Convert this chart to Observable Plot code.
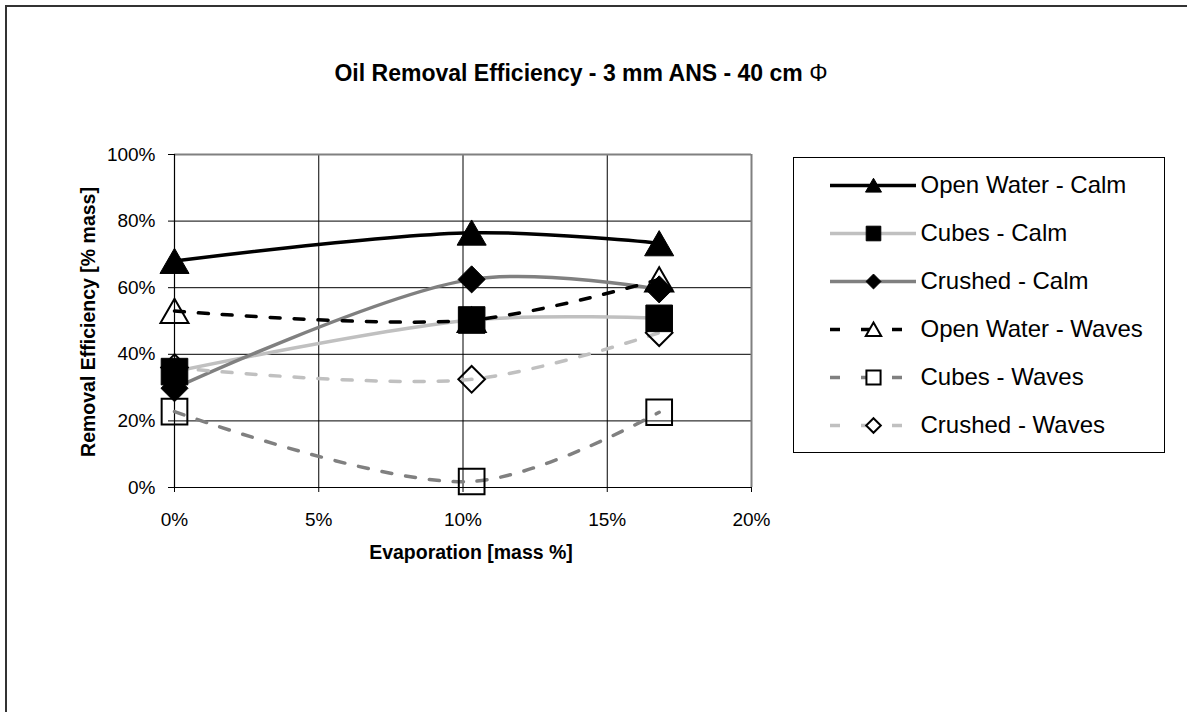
<!DOCTYPE html>
<html>
<head>
<meta charset="utf-8">
<script src="https://cdn.jsdelivr.net/npm/d3@7"></script>
<script src="https://cdn.jsdelivr.net/npm/@observablehq/plot@0.6"></script>
<style>
  html, body { margin: 0; background: #fff; font-family: "Liberation Sans", Arial, sans-serif; overflow: hidden; }
  #wrap { position: relative; width: 1187px; height: 712px; overflow: hidden; background: #fff; }
  #frame { position: absolute; left: 5px; top: 5px; width: 1250px; height: 760px; border: 2px solid #333; }
  #title { position: absolute; top: 60px; left: 0; width: 1162px; text-align: center; font-weight: bold; font-size: 23px; color: #000; white-space: nowrap; }
  #title .phi { font-weight: normal; }
  #chart { position: absolute; left: 0; top: 0; }
  #legend { position: absolute; left: 793px; top: 157px; border: 1px solid #000; background: #fff; line-height: 0; }
</style>
</head>
<body>
<div id="wrap">
  <div id="frame"></div>
  <div id="title">Oil Removal Efficiency - 3 mm ANS - 40 cm <span class="phi">Φ</span></div>
  <div id="chart"></div>
  <div id="legend"></div>
</div>
<script>
// ---- data ----
const evaporation = [0, 10.3, 16.8];
const seriesNames = ["Open Water - Calm", "Cubes - Calm", "Crushed - Calm", "Open Water - Waves", "Cubes - Waves", "Crushed - Waves"];
const openWaterCalm = [68, 76.5, 73.3];
const cubesCalm = [34.8, 50.3, 50.8];
const crushedCalm = [29.8, 62.5, 59.5];
const openWaterWaves = [53, 50.3, 62.5];
const cubesWaves = [22.8, 1.8, 22.6];
const crushedWaves = [36, 32.5, 46.5];
const xTicks = [0, 5, 10, 15, 20];
const yTicks = [0, 20, 40, 60, 80, 100];
const xTitle = "Evaporation [mass %]";
const yTitle = "Removal Efficiency [% mass]";

// ---- styles (kept separate from data) ----
const LIGHT = "#c0c0c0", MID = "#808080", BLACK = "#000";
const styles = [
  {stroke: BLACK, dash: null, symbol: "triangle", fill: BLACK, r: 10.8, dy: 4},
  {stroke: LIGHT, dash: null, symbol: "square", fill: BLACK, r: 15, dy: 0},
  {stroke: MID, dash: null, symbol: "diamond2", fill: BLACK, r: 12.2, dy: 0},
  {stroke: BLACK, dash: "10,14", symbol: "triangle", fill: "none", r: 10.4, dy: 4},
  {stroke: MID, dash: "10,14", symbol: "square", fill: "none", r: 14.5, dy: 0},
  {stroke: LIGHT, dash: "10,14", symbol: "diamond2", fill: "none", r: 12, dy: 0}
];
const seriesValues = [openWaterCalm, cubesCalm, crushedCalm, openWaterWaves, cubesWaves, crushedWaves];

const rows = seriesNames.map((name, s) => evaporation.map((x, i) => ({series: name, x, y: seriesValues[s][i]})));

const pct = d => d + "%";
const W = 790, H = 580;
const FONT = "'Liberation Sans', Arial, sans-serif";

const marks = [
  Plot.gridX(xTicks.slice(1, -1), {stroke: BLACK, strokeOpacity: 1, strokeWidth: 1}),
  Plot.gridY(yTicks.slice(1, -1), {stroke: BLACK, strokeOpacity: 1, strokeWidth: 1}),
  Plot.ruleY([100], {stroke: MID, strokeWidth: 2}),
  Plot.ruleX([20], {stroke: MID, strokeWidth: 2}),
  Plot.ruleY([0], {stroke: BLACK, strokeWidth: 1.2}),
  Plot.ruleX([0], {stroke: BLACK, strokeWidth: 1.2}),
  Plot.axisX({ticks: xTicks, tickFormat: pct, tickSize: 5, tickPadding: 20, label: null, fontSize: 19}),
  Plot.axisY({ticks: yTicks, tickFormat: pct, tickSize: 6, tickPadding: 13, label: null, fontSize: 19}),
  Plot.text([yTitle], {frameAnchor: "left", dx: -86, dy: 1, rotate: -90, textAnchor: "middle", fontWeight: "bold", fontSize: 19.5, text: d => d}),
  Plot.text([xTitle], {frameAnchor: "bottom", dy: 71, dx: 8, textAnchor: "middle", fontWeight: "bold", fontSize: 19.5, text: d => d})
];
rows.forEach((data, s) => {
  marks.push(Plot.line(data, {x: "x", y: "y", stroke: styles[s].stroke, strokeWidth: 3.5, strokeDasharray: styles[s].dash, curve: "catmull-rom"}));
});
rows.forEach((data, s) => {
  const st = styles[s];
  marks.push(Plot.dot(data, {x: "x", y: "y", symbol: st.symbol, r: st.r, dy: st.dy, fill: st.fill, stroke: BLACK, strokeWidth: st.fill === "none" ? 2 : 1}));
});

const chart = Plot.plot({
  width: W, height: H,
  marginLeft: 174, marginRight: W - 751, marginTop: 154, marginBottom: H - 487,
  x: {domain: [0, 20], label: null},
  y: {domain: [0, 100], label: null},
  style: {fontFamily: FONT, fontSize: "19px", color: "#000", background: "transparent", overflow: "visible"},
  marks
});
document.getElementById("chart").appendChild(chart);

// ---- legend ----
const legendRows = seriesNames.map((name, i) => ({name, i}));
const lmarks = [];
legendRows.forEach(d => {
  const st = styles[d.i];
  lmarks.push(Plot.ruleY([d], {y: "name", x1: 0, x2: 1, stroke: st.stroke, strokeWidth: 3.5, strokeDasharray: st.dash ? "10,21" : null}));
  lmarks.push(Plot.dot([d], {y: "name", x: 0.5, symbol: st.symbol, r: st.r * 0.55, dy: st.dy * 0.5, fill: st.fill === "none" ? "#fff" : st.fill, stroke: BLACK, strokeWidth: st.fill === "none" ? 2 : 1}));
});
lmarks.push(Plot.text(legendRows, {y: "name", x: 1.0465, text: "name", textAnchor: "start", fontSize: 24, fill: BLACK}));

const legend = Plot.plot({
  width: 370, height: 294, margin: 0,
  x: {domain: [0, 1], range: [36, 122], axis: null},
  y: {type: "point", domain: seriesNames, range: [25, 269], padding: 0, axis: null},
  style: {fontFamily: FONT, color: "#000", background: "transparent", overflow: "visible"},
  marks: lmarks
});
document.getElementById("legend").appendChild(legend);
</script>
</body>
</html>
